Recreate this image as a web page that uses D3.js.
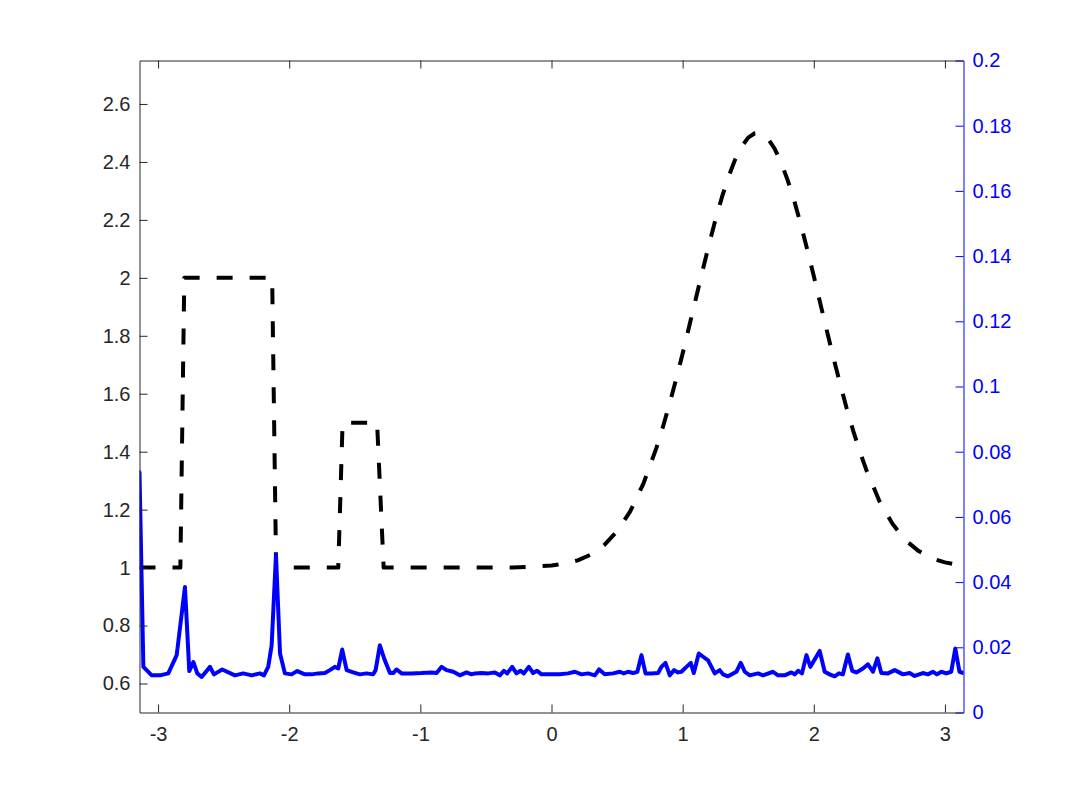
<!DOCTYPE html>
<html>
<head>
<meta charset="utf-8">
<script src="https://cdn.jsdelivr.net/npm/d3@7"></script>
<style>
html, body { margin: 0; padding: 0; background: #fff; }
svg { display: block; }
</style>
</head>
<body>
<svg id="chart" width="1067" height="800"></svg>
<script>
// ---- data ----
const xTicks = [-3, -2, -1, 0, 1, 2, 3];
const leftTicks = [0.6, 0.8, 1, 1.2, 1.4, 1.6, 1.8, 2, 2.2, 2.4, 2.6];
const rightTicks = [0, 0.02, 0.04, 0.06, 0.08, 0.1, 0.12, 0.14, 0.16, 0.18, 0.2];

const blackX = [-3.1416, -2.83, -2.80, -2.13, -2.10, -1.626, -1.593, -1.33, -1.28, -0.3,
  0, 0.1, 0.2, 0.3, 0.4, 0.5, 0.6, 0.7, 0.8, 0.85, 0.9, 0.95, 1.0, 1.05, 1.1, 1.15, 1.2, 1.25,
  1.3, 1.35, 1.4, 1.45, 1.5, 1.55, 1.5708, 1.6, 1.65, 1.7, 1.75, 1.8, 1.85, 1.9, 1.95,
  2.0, 2.05, 2.1, 2.15, 2.2, 2.25, 2.3, 2.35, 2.4, 2.5, 2.6, 2.7, 2.8, 2.9, 3.0, 3.1, 3.1416];
const blackY = [1, 1, 2, 2, 1, 1, 1.5, 1.5, 1, 1,
  1.007, 1.014, 1.025, 1.045, 1.077, 1.125, 1.194, 1.289, 1.413, 1.486, 1.565, 1.650, 1.739, 1.833, 1.927, 2.021, 2.113, 2.200,
  2.279, 2.349, 2.408, 2.453, 2.484, 2.499, 2.5, 2.497, 2.480, 2.447, 2.399, 2.338, 2.267, 2.186, 2.098,
  2.006, 1.911, 1.817, 1.724, 1.636, 1.551, 1.473, 1.402, 1.338, 1.230, 1.151, 1.094, 1.057, 1.032, 1.018, 1.009, 1.007];

const blueX = [-3.1416, -3.112, -3.048, -2.985, -2.922, -2.858, -2.795, -2.762, -2.731, -2.701,
  -2.668, -2.604, -2.574, -2.511, -2.414, -2.350, -2.286, -2.223, -2.193, -2.160,
  -2.134, -2.101, -2.070, -2.033, -1.982, -1.939, -1.880, -1.829, -1.779, -1.728,
  -1.690, -1.652, -1.626, -1.596, -1.562, -1.512, -1.461, -1.410, -1.360, -1.341,
  -1.309, -1.271, -1.232, -1.207, -1.181, -1.143, -1.067, -0.991, -0.914, -0.876,
  -0.838, -0.800, -0.749, -0.699, -0.648, -0.610, -0.584, -0.533, -0.483, -0.432,
  -0.394, -0.363, -0.338, -0.300, -0.267, -0.236, -0.211, -0.173, -0.140, -0.110,
  -0.076, -0.013, 0.063, 0.127, 0.178, 0.229, 0.279, 0.330, 0.363, 0.406,
  0.470, 0.521, 0.551, 0.584, 0.622, 0.655, 0.686, 0.717, 0.762, 0.813,
  0.838, 0.869, 0.902, 0.935, 0.965, 0.991, 1.029, 1.062, 1.085, 1.123,
  1.156, 1.194, 1.245, 1.283, 1.308, 1.346, 1.392, 1.410, 1.443, 1.474,
  1.512, 1.575, 1.613, 1.689, 1.727, 1.778, 1.829, 1.854, 1.880, 1.910,
  1.944, 1.974, 2.045, 2.083, 2.121, 2.159, 2.192, 2.222, 2.260, 2.293,
  2.324, 2.375, 2.413, 2.451, 2.485, 2.515, 2.566, 2.617, 2.680, 2.731,
  2.769, 2.832, 2.870, 2.908, 2.939, 2.972, 3.010, 3.048, 3.079, 3.111, 3.1416];
const blueY = [0.0737, 0.0140, 0.0114, 0.0114, 0.0120, 0.0176, 0.0385, 0.0127, 0.0155, 0.0120,
  0.0109, 0.0140, 0.0117, 0.0132, 0.0114, 0.0120, 0.0114, 0.0120, 0.0114, 0.0140,
  0.0206, 0.0483, 0.0181, 0.0120, 0.0117, 0.0127, 0.0117, 0.0117, 0.0120, 0.0121,
  0.0130, 0.0140, 0.0135, 0.0193, 0.0130, 0.0123, 0.0117, 0.0120, 0.0117, 0.0130,
  0.0206, 0.0160, 0.0121, 0.0121, 0.0132, 0.0120, 0.0120, 0.0121, 0.0123, 0.0121,
  0.0140, 0.0130, 0.0125, 0.0114, 0.0123, 0.0117, 0.0120, 0.0121, 0.0120, 0.0123,
  0.0114, 0.0128, 0.0120, 0.0140, 0.0120, 0.0128, 0.0120, 0.0140, 0.0121, 0.0128,
  0.0117, 0.0117, 0.0117, 0.0120, 0.0125, 0.0117, 0.0120, 0.0114, 0.0132, 0.0117,
  0.0120, 0.0125, 0.0120, 0.0125, 0.0121, 0.0125, 0.0176, 0.0120, 0.0120, 0.0121,
  0.0140, 0.0152, 0.0114, 0.0130, 0.0123, 0.0125, 0.0140, 0.0152, 0.0121, 0.0181,
  0.0171, 0.0160, 0.0120, 0.0130, 0.0117, 0.0111, 0.0121, 0.0125, 0.0152, 0.0125,
  0.0114, 0.0120, 0.0114, 0.0125, 0.0114, 0.0114, 0.0123, 0.0117, 0.0128, 0.0120,
  0.0176, 0.0140, 0.0189, 0.0125, 0.0117, 0.0111, 0.0120, 0.0117, 0.0178, 0.0128,
  0.0123, 0.0135, 0.0148, 0.0125, 0.0166, 0.0121, 0.0120, 0.0130, 0.0117, 0.0121,
  0.0112, 0.0121, 0.0117, 0.0125, 0.0117, 0.0125, 0.0120, 0.0125, 0.0196, 0.0125, 0.0121];

// ---- drawing ----
const svg = d3.select("#chart");
const L = 139.5, R = 963.5, T = 60.5, B = 712.5;
const axisColor = "#262626";
const blue = "#0000ff";
const font = "'Liberation Sans', Arial, Helvetica, sans-serif";
const fontSize = 20;

const x = d3.scaleLinear().domain([-Math.PI, Math.PI]).range([L, R]);
const yL = d3.scaleLinear().domain([0.5, 2.75]).range([B, T]);
const yR = d3.scaleLinear().domain([0, 0.2]).range([B, T]);

const fmt = d => String(+d.toFixed(3));

svg.append("clipPath").attr("id", "clip")
  .append("rect").attr("x", L).attr("y", T).attr("width", R - L).attr("height", B - T);

const blackData = blackX.map((v, i) => [v, blackY[i]]);
const blueData = blueX.map((v, i) => [v, blueY[i]]);

const g = svg.append("g").attr("clip-path", "url(#clip)");
g.append("path")
  .attr("d", d3.line().curve(d3.curveLinear).x(d => x(d[0])).y(d => yL(d[1]))(blackData))
  .attr("fill", "none").attr("stroke", "#000").attr("stroke-width", 4)
  .attr("stroke-dasharray", "16,17").attr("stroke-linejoin", "round");
g.append("path")
  .attr("d", d3.line().x(d => x(d[0])).y(d => yR(d[1]))(blueData))
  .attr("fill", "none").attr("stroke", blue).attr("stroke-width", 4)
  .attr("stroke-linejoin", "round").attr("stroke-linecap", "round");

function style(sel, color) {
  sel.attr("font-size", fontSize).attr("font-family", font);
  sel.select(".domain").attr("stroke", color).attr("stroke-width", 1);
  sel.selectAll(".tick line").attr("stroke", color).attr("stroke-width", 1);
  sel.selectAll(".tick text").attr("fill", color)
    .style("font-family", font).style("font-size", fontSize + "px");
}

// bottom axis
const gb = svg.append("g").attr("transform", `translate(0,${B})`)
  .call(d3.axisBottom(x).tickValues(xTicks).tickFormat(fmt)
    .tickSizeInner(-8).tickSizeOuter(0).tickPadding(12));
style(gb, axisColor);
gb.selectAll(".tick text").attr("dy", "0.8em");

// top axis
const gt = svg.append("g").attr("transform", `translate(0,${T})`)
  .call(d3.axisTop(x).tickValues(xTicks).tickFormat("")
    .tickSizeInner(-8).tickSizeOuter(0));
style(gt, axisColor);

// left axis
const gl = svg.append("g").attr("transform", `translate(${L},0)`)
  .call(d3.axisLeft(yL).tickValues(leftTicks).tickFormat(fmt)
    .tickSizeInner(-8).tickSizeOuter(0).tickPadding(9));
style(gl, axisColor);

// right axis
const gr = svg.append("g").attr("transform", `translate(${R},0)`)
  .call(d3.axisRight(yR).tickValues(rightTicks).tickFormat(fmt)
    .tickSizeInner(-8).tickSizeOuter(0).tickPadding(9));
style(gr, blue);
</script>
</body>
</html>
